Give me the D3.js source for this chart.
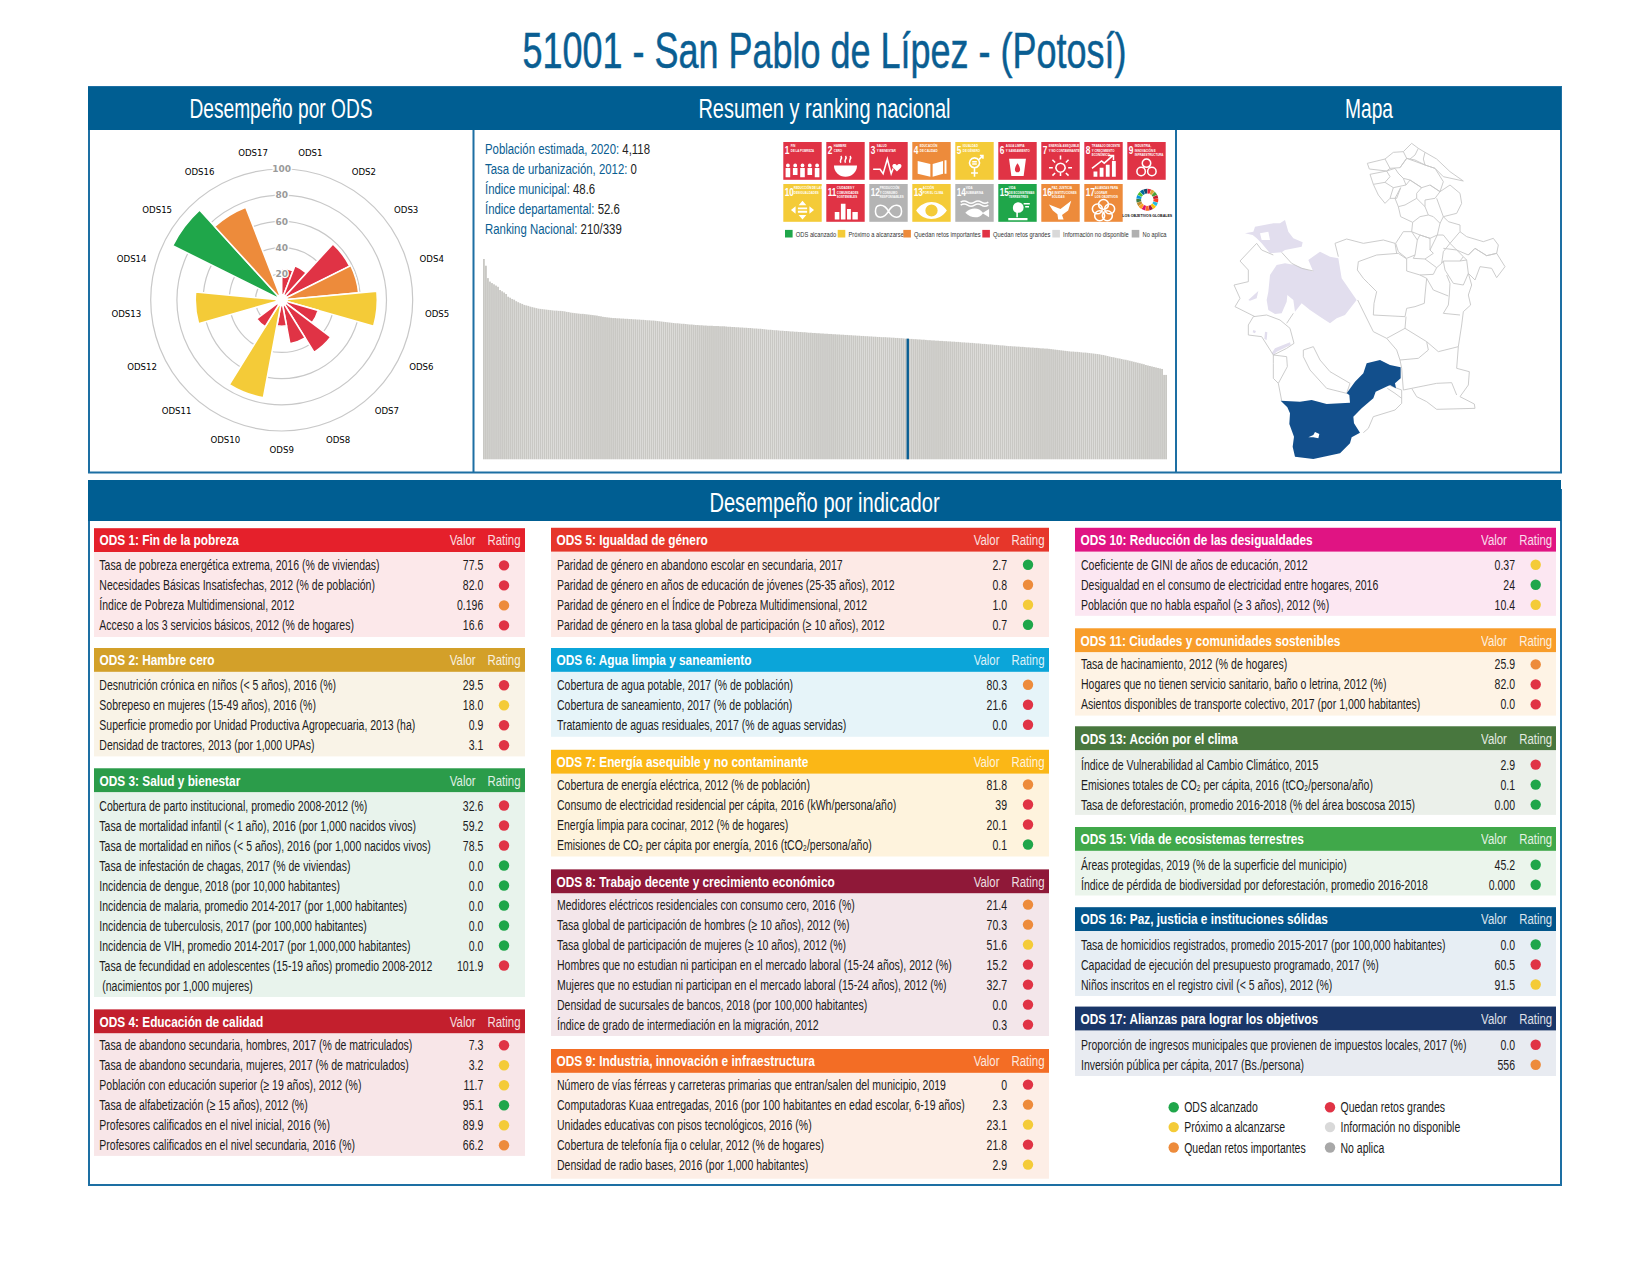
<!DOCTYPE html>
<html>
<head>
<meta charset="utf-8">
<script src="https://cdn.jsdelivr.net/npm/d3@7"></script>
<style>
body { margin: 0; background: #fff; }
text { font-family: "Liberation Sans", sans-serif; }
</style>
</head>
<body>
<svg id="chart" width="1651" height="1275"></svg>
<script>
// ratings: g alcanzado, y proximo, o retos importantes, r retos grandes
const ratingColors = { g: "#1fa64a", y: "#f4cb38", o: "#ed8b3b", r: "#e03345", n: "#d9d9d9", x: "#a8a8a8" };

const polarLabels = d3.range(1, 18).map(i => "ODS" + i);
const polarValues = [24, 28, 58, 59, 73, 29, 47, 34, 20, 76, 24, 0, 66, 0, 93, 76, 0];
const polarRatings = ["r", "r", "r", "o", "y", "r", "r", "r", "r", "y", "r", "x", "y", "x", "g", "o", "o"];
const polarTicks = [20, 40, 60, 80, 100];

const infoLines = [
  ["Población estimada, 2020: ", "4,118"],
  ["Tasa de urbanización, 2012: ", "0"],
  ["Índice municipal: ", "48.6"],
  ["Índice departamental: ", "52.6"],
  ["Ranking Nacional: ", "210/339"]
];

const tileTitles = [
  ["FIN", "DE LA POBREZA"], ["HAMBRE", "CERO"], ["SALUD", "Y BIENESTAR"], ["EDUCACIÓN", "DE CALIDAD"],
  ["IGUALDAD", "DE GÉNERO"], ["AGUA LIMPIA", "Y SANEAMIENTO"], ["ENERGÍA ASEQUIBLE", "Y NO CONTAMINANTE"],
  ["TRABAJO DECENTE", "Y CRECIMIENTO", "ECONÓMICO"], ["INDUSTRIA,", "INNOVACIÓN E", "INFRAESTRUCTURA"],
  ["REDUCCIÓN DE LAS", "DESIGUALDADES"], ["CIUDADES Y", "COMUNIDADES", "SOSTENIBLES"],
  ["PRODUCCIÓN", "Y CONSUMO", "RESPONSABLES"], ["ACCIÓN", "POR EL CLIMA"], ["VIDA", "SUBMARINA"],
  ["VIDA", "DE ECOSISTEMAS", "TERRESTRES"], ["PAZ, JUSTICIA", "E INSTITUCIONES", "SÓLIDAS"],
  ["ALIANZAS PARA", "LOGRAR", "LOS OBJETIVOS"]
];
const tileRatings = ["r", "r", "r", "o", "y", "r", "r", "r", "r", "y", "r", "x", "y", "x", "g", "o", "o"];
const tileLegend = [
  ["g", "ODS alcanzado"], ["y", "Próximo a alcanzarse"], ["o", "Quedan retos importantes"],
  ["r", "Quedan retos grandes"], ["n", "Información no disponible"], ["x", "No aplica"]
];
const wheelColors = ["#e5243b", "#dda63a", "#4c9f38", "#c5192d", "#ff3a21", "#26bde2", "#fcc30b", "#a21942", "#fd6925",
  "#dd1367", "#fd9d24", "#bf8b2e", "#3f7e44", "#0a97d9", "#56c02b", "#00689d", "#19486a"];

const rankingValues = [
  80.7,78.0,73.0,71.6,71.0,70.5,70.0,69.5,68.2,67.7,67.2,66.6,65.5,65.1,64.6,64.3,63.7,63.3,62.9,62.6,
  62.2,62.0,61.8,61.5,61.3,61.1,60.9,60.7,60.6,60.5,60.4,60.3,60.2,60.1,60.0,59.9,59.9,59.8,59.8,59.7,
  59.6,59.4,59.3,59.1,59.0,58.9,58.8,58.7,58.6,58.6,58.5,58.4,58.3,58.2,58.1,58.0,57.9,57.7,57.6,57.4,
  57.3,57.2,57.1,57.0,56.9,56.9,56.8,56.8,56.7,56.7,56.6,56.6,56.5,56.5,56.4,56.4,56.3,56.3,56.2,56.2,
  56.1,56.0,56.0,55.9,55.9,55.8,55.7,55.6,55.5,55.4,55.3,55.2,55.1,55.0,54.9,54.8,54.8,54.7,54.6,54.6,
  54.5,54.4,54.3,54.3,54.2,54.1,54.1,54.0,54.0,53.9,53.9,53.8,53.8,53.8,53.7,53.7,53.7,53.6,53.6,53.6,
  53.5,53.4,53.4,53.3,53.3,53.2,53.2,53.1,53.1,53.0,53.0,52.9,52.9,52.8,52.7,52.7,52.6,52.6,52.5,52.4,
  52.3,52.2,52.2,52.1,52.0,52.0,51.9,51.8,51.8,51.7,51.7,51.6,51.5,51.5,51.4,51.4,51.3,51.3,51.2,51.2,
  51.1,51.0,51.0,50.9,50.9,50.8,50.8,50.7,50.7,50.6,50.6,50.5,50.5,50.4,50.4,50.3,50.3,50.2,50.2,50.1,
  50.1,50.0,50.0,49.9,49.9,49.8,49.8,49.7,49.7,49.6,49.6,49.5,49.5,49.4,49.4,49.3,49.3,49.2,49.2,49.2,
  49.1,49.1,49.0,49.0,48.9,48.9,48.8,48.8,48.7,48.6,48.6,48.5,48.5,48.4,48.4,48.3,48.3,48.2,48.2,48.1,
  48.0,48.0,47.9,47.9,47.8,47.8,47.7,47.7,47.6,47.6,47.5,47.5,47.4,47.4,47.3,47.3,47.2,47.1,47.1,47.0,
  47.0,46.9,46.9,46.8,46.7,46.7,46.6,46.5,46.5,46.4,46.3,46.3,46.2,46.1,46.1,46.0,45.9,45.9,45.8,45.7,
  45.6,45.6,45.5,45.5,45.4,45.4,45.3,45.3,45.2,45.1,45.1,45.0,45.0,44.9,44.9,44.8,44.7,44.7,44.6,44.6,
  44.5,44.4,44.3,44.2,44.1,44.0,43.9,43.8,43.7,43.6,43.5,43.4,43.4,43.3,43.3,43.2,43.1,43.0,43.0,42.9,
  42.8,42.7,42.6,42.5,42.4,42.3,42.1,42.0,41.8,41.6,41.4,41.2,41.1,40.9,40.7,40.6,40.4,40.2,40.1,39.9,
  39.7,39.5,39.3,39.1,38.9,38.7,38.5,38.3,38.0,37.8,37.6,37.4,37.2,37.0,36.8,36.6,36.4,34.0,34.0
];
const rankingHighlight = 210;

// contornos del mapa, en unidades propias del mapa (0-900, 0-1005)
const mapBlue = [[152,797],[210,800],[245,795],[290,807],[360,803],[358,780],[350,775],[375,740],[400,715],[410,685],[450,675],[480,690],[512,697],[512,730],[495,745],[498,760],[480,750],[437,770],[430,790],[395,820],[370,845],[372,865],[390,893],[365,907],[360,925],[330,955],[250,972],[195,965],[188,935],[192,905],[178,867],[180,835],[172,817]];
const mapBlueHole = [[235,907],[250,900],[255,891],[268,897],[265,910],[250,907]];
const mapLavender = [
  [[45,295],[70,290],[75,275],[130,265],[150,265],[165,255],[175,290],[190,310],[218,322],[215,335],[165,345],[155,352],[120,355],[95,325],[80,310],[68,300]],
  [[120,420],[140,390],[165,385],[195,390],[220,400],[250,410],[235,375],[270,350],[300,365],[325,370],[335,430],[380,495],[345,540],[320,550],[300,565],[270,545],[240,525],[215,505],[195,530],[190,495],[172,480],[170,500],[155,535],[135,537],[115,525],[110,495],[115,470]],
  [[55,495],[85,468],[80,490],[60,497]],
  [[105,590],[112,592],[110,615],[103,612]],
  [[125,655],[135,640],[180,622],[182,630],[140,650],[130,660]],
  [[70,585],[78,588],[75,595],[68,592]]
];
const mapLakeHole = [[90,295],[115,290],[120,315],[95,315]];
const mapRegions = [
  [[412,85],[465,72],[480,100],[470,108],[418,102],[412,85]],
  [[465,72],[490,52],[520,50],[530,70],[510,98],[480,100]],
  [[520,50],[545,25],[565,40],[555,60],[540,72],[530,70]],
  [[565,40],[585,52],[580,72],[585,90],[555,75],[540,72]],
  [[585,52],[620,72],[660,110],[700,138],[640,125],[615,100],[585,90]],
  [[510,98],[530,70],[585,90],[615,100],[640,140],[630,170],[600,150],[575,158],[540,135],[520,130],[505,115]],
  [[420,118],[470,108],[480,125],[465,142],[430,148],[420,118]],
  [[470,108],[495,100],[505,115],[520,130],[528,150],[490,158],[465,142]],
  [[430,148],[445,180],[465,205],[480,190],[490,158]],
  [[512,158],[500,190],[480,190]],
  [[528,150],[540,135],[575,158],[560,175],[560,190],[525,210],[505,215],[495,190],[512,158]],
  [[600,150],[630,170],[615,190],[585,195],[585,215],[560,190]],
  [[630,170],[660,150],[690,175],[695,205],[680,235],[640,245],[620,190]],
  [[505,215],[512,245],[548,262],[570,245],[595,240],[585,215]],
  [[595,240],[610,245],[630,265],[640,245]],
  [[548,262],[545,290],[570,300],[600,310],[622,300],[630,265]],
  [[640,245],[655,260],[690,270],[690,290],[660,325],[640,300],[622,300]],
  [[520,290],[545,290],[562,315],[555,360],[530,370],[505,350],[497,325],[520,290]],
  [[562,315],[570,300],[600,310],[600,345],[610,355],[585,372],[550,370],[555,360]],
  [[600,345],[622,300]],
  [[660,325],[640,350],[635,385],[620,398],[585,372]],
  [[690,290],[710,305],[760,320],[790,310],[805,330],[800,355],[770,362],[735,340],[715,360],[680,345],[660,325]],
  [[640,340],[680,345],[700,365],[690,378],[640,378],[635,385]],
  [[715,360],[735,340],[770,362],[800,355],[825,395],[800,428],[785,400],[750,395],[735,435],[715,415],[710,375],[700,365]],
  [[530,372],[530,408],[570,420],[610,418],[620,398]],
  [[690,378],[710,375]],
  [[640,378],[645,405],[670,445],[700,450],[715,415]],
  [[715,415],[725,450],[715,480],[722,510],[700,530],[695,570],[685,635]],
  [[650,420],[660,445],[658,480],[655,510],[640,535],[690,540]],
  [[590,430],[610,465],[655,483]],
  [[315,325],[350,312],[400,325],[460,315],[495,325],[500,355]],
  [[315,325],[325,365]],
  [[385,380],[440,360],[505,355],[530,372]],
  [[385,380],[382,405],[400,430],[415,445],[440,470],[432,505],[430,540],[525,545],[530,520],[555,515],[583,505],[585,480],[590,430],[570,420]],
  [[383,495],[430,590],[470,610],[525,580],[528,545]],
  [[470,610],[500,645],[510,675],[565,670],[595,645],[590,620],[525,580]],
  [[590,620],[625,650],[685,635]],
  [[685,635],[680,700],[718,710],[715,750],[690,785],[733,807],[735,820],[620,823],[590,800],[560,785],[545,760],[520,765],[515,700],[510,675]],
  [[545,760],[620,745],[665,743],[680,780]],
  [[475,750],[515,765],[515,805],[495,825],[430,845],[415,880],[400,893]],
  [[472,760],[495,775],[515,790]],
  [[55,570],[70,545],[110,540],[150,555],[180,580],[192,625],[170,640],[130,660],[95,605],[55,600],[55,570]],
  [[130,660],[170,665],[172,695],[145,745],[130,730],[130,685],[130,660]],
  [[145,745],[155,797]],
  [[220,645],[250,635],[270,675],[300,710],[360,745],[350,775],[290,760],[240,705],[220,665],[220,645]],
  [[80,325],[30,378],[55,405],[55,440],[12,450],[30,490],[15,515],[75,545]],
  [[80,325],[95,345],[130,360]],
  [[155,352],[185,385],[215,400],[250,408]],
  [[170,565],[190,535]]
];

const goalNames = {
  1: "ODS 1: Fin de la pobreza", 2: "ODS 2: Hambre cero", 3: "ODS 3: Salud y bienestar", 4: "ODS 4: Educación de calidad",
  5: "ODS 5: Igualdad de género", 6: "ODS 6: Agua limpia y saneamiento", 7: "ODS 7: Energía asequible y no contaminante",
  8: "ODS 8: Trabajo decente y crecimiento económico", 9: "ODS 9: Industria, innovación e infraestructura",
  10: "ODS 10: Reducción de las desigualdades", 11: "ODS 11: Ciudades y comunidades sostenibles", 13: "ODS 13: Acción por el clima",
  15: "ODS 15: Vida de ecosistemas terrestres", 16: "ODS 16: Paz, justicia e instituciones sólidas", 17: "ODS 17: Alianzas para lograr los objetivos"
};
const goalColors = { 1: "#e5202b", 2: "#d3a029", 3: "#2b9c4a", 4: "#c31f2d", 5: "#e6362a", 6: "#0ba5d9", 7: "#fbb716", 8: "#8f1838", 9: "#f36d25", 10: "#e01483", 11: "#f89d2a", 13: "#48773e", 15: "#40a84a", 16: "#02558b", 17: "#1a3668" };
const goalTints = { 1: "#fce8ea", 2: "#f9f3e7", 3: "#e8f3ec", 4: "#f8e6e8", 5: "#fdeae6", 6: "#e6f4f9", 7: "#fef3dd", 8: "#f3e6ea", 9: "#fdeee6", 10: "#fce7f2", 11: "#fef3e5", 13: "#ebf0ea", 15: "#ebf5ec", 16: "#e7eef4", 17: "#e8ebf1" };

const goalRows = {
  1: [["Tasa de pobreza energética extrema, 2016 (% de viviendas)", "77.5", "r"], ["Necesidades Básicas Insatisfechas, 2012 (% de población)", "82.0", "r"], ["Índice de Pobreza Multidimensional, 2012", "0.196", "o"], ["Acceso a los 3 servicios básicos, 2012 (% de hogares)", "16.6", "r"]],
  2: [["Desnutrición crónica en niños (< 5 años), 2016 (%)", "29.5", "r"], ["Sobrepeso en mujeres (15-49 años), 2016 (%)", "18.0", "y"], ["Superficie promedio por Unidad Productiva Agropecuaria, 2013 (ha)", "0.9", "r"], ["Densidad de tractores, 2013 (por 1,000 UPAs)", "3.1", "r"]],
  3: [["Cobertura de parto institucional, promedio 2008-2012 (%)", "32.6", "r"], ["Tasa de mortalidad infantil (< 1 año), 2016 (por 1,000 nacidos vivos)", "59.2", "r"], ["Tasa de mortalidad en niños (< 5 años), 2016 (por 1,000 nacidos vivos)", "78.5", "r"], ["Tasa de infestación de chagas, 2017 (% de viviendas)", "0.0", "g"], ["Incidencia de dengue, 2018 (por 10,000 habitantes)", "0.0", "g"], ["Incidencia de malaria, promedio 2014-2017 (por 1,000 habitantes)", "0.0", "g"], ["Incidencia de tuberculosis, 2017 (por 100,000 habitantes)", "0.0", "g"], ["Incidencia de VIH, promedio 2014-2017 (por 1,000,000 habitantes)", "0.0", "g"], ["Tasa de fecundidad en adolescentes (15-19 años) promedio 2008-2012", "101.9", "r"], ["\u00a0(nacimientos por 1,000 mujeres)", "", ""]],
  4: [["Tasa de abandono secundaria, hombres, 2017 (% de matriculados)", "7.3", "r"], ["Tasa de abandono secundaria, mujeres, 2017 (% de matriculados)", "3.2", "y"], ["Población con educación superior (≥ 19 años), 2012 (%)", "11.7", "y"], ["Tasa de alfabetización (≥ 15 años), 2012 (%)", "95.1", "g"], ["Profesores calificados en el nivel inicial, 2016 (%)", "89.9", "y"], ["Profesores calificados en el nivel secundaria, 2016 (%)", "66.2", "o"]],
  5: [["Paridad de género en abandono escolar en secundaria, 2017", "2.7", "g"], ["Paridad de género en años de educación de jóvenes (25-35 años), 2012", "0.8", "o"], ["Paridad de género en el Índice de Pobreza Multidimensional, 2012", "1.0", "y"], ["Paridad de género en la tasa global de participación (≥ 10 años), 2012", "0.7", "g"]],
  6: [["Cobertura de agua potable, 2017 (% de población)", "80.3", "o"], ["Cobertura de saneamiento, 2017 (% de población)", "21.6", "r"], ["Tratamiento de aguas residuales, 2017 (% de aguas servidas)", "0.0", "r"]],
  7: [["Cobertura de energía eléctrica, 2012 (% de población)", "81.8", "o"], ["Consumo de electricidad residencial per cápita, 2016 (kWh/persona/año)", "39", "r"], ["Energía limpia para cocinar, 2012 (% de hogares)", "20.1", "r"], ["Emisiones de CO₂ per cápita por energía, 2016 (tCO₂/persona/año)", "0.1", "g"]],
  8: [["Medidores eléctricos residenciales con consumo cero, 2016 (%)", "21.4", "o"], ["Tasa global de participación de hombres (≥ 10 años), 2012 (%)", "70.3", "o"], ["Tasa global de participación de mujeres (≥ 10 años), 2012 (%)", "51.6", "y"], ["Hombres que no estudian ni participan en el mercado laboral (15-24 años), 2012 (%)", "15.2", "r"], ["Mujeres que no estudian ni participan en el mercado laboral (15-24 años), 2012 (%)", "32.7", "r"], ["Densidad de sucursales de bancos, 2018 (por 100,000 habitantes)", "0.0", "r"], ["Índice de grado de intermediación en la migración, 2012", "0.3", "r"]],
  9: [["Número de vías férreas y carreteras primarias que entran/salen del municipio, 2019", "0", "r"], ["Computadoras Kuaa entregadas, 2016 (por 100 habitantes en edad escolar, 6-19 años)", "2.3", "o"], ["Unidades educativas con pisos tecnológicos, 2016 (%)", "23.1", "y"], ["Cobertura de telefonía fija o celular, 2012 (% de hogares)", "21.8", "r"], ["Densidad de radio bases, 2016 (por 1,000 habitantes)", "2.9", "y"]],
  10: [["Coeficiente de GINI de años de educación, 2012", "0.37", "y"], ["Desigualdad en el consumo de electricidad entre hogares, 2016", "24", "g"], ["Población que no habla español (≥ 3 años), 2012 (%)", "10.4", "y"]],
  11: [["Tasa de hacinamiento, 2012 (% de hogares)", "25.9", "o"], ["Hogares que no tienen servicio sanitario, baño o letrina, 2012 (%)", "82.0", "r"], ["Asientos disponibles de transporte colectivo, 2017 (por 1,000 habitantes)", "0.0", "r"]],
  13: [["Índice de Vulnerabilidad al Cambio Climático, 2015", "2.9", "r"], ["Emisiones totales de CO₂ per cápita, 2016 (tCO₂/persona/año)", "0.1", "g"], ["Tasa de deforestación, promedio 2016-2018 (% del área boscosa 2015)", "0.00", "g"]],
  15: [["Áreas protegidas, 2019 (% de la superficie del municipio)", "45.2", "g"], ["Índice de pérdida de biodiversidad por deforestación, promedio 2016-2018", "0.000", "g"]],
  16: [["Tasa de homicidios registrados, promedio 2015-2017 (por 100,000 habitantes)", "0.0", "g"], ["Capacidad de ejecución del presupuesto programado, 2017 (%)", "60.5", "r"], ["Niños inscritos en el registro civil (< 5 años), 2012 (%)", "91.5", "y"]],
  17: [["Proporción de ingresos municipales que provienen de impuestos locales, 2017 (%)", "0.0", "r"], ["Inversión pública per cápita, 2017 (Bs./persona)", "556", "o"]]
};
const ratingLegend = [
  ["g", "ODS alcanzado"], ["y", "Próximo a alcanzarse"], ["o", "Quedan retos importantes"],
  ["r", "Quedan retos grandes"], ["n", "Información no disponible"], ["x", "No aplica"]
];

// layout
const blue = "#005e92", frameBlue = "#1d6fa3";
const columns = [
  { x0: 94, x1: 525, text: 99.3, val: 483.3, dot: 504, valor: 462.7 },
  { x0: 551, x1: 1049, text: 557, val: 1007, dot: 1028, valor: 986.6 },
  { x0: 1075, x1: 1556, text: 1081, val: 1515, dot: 1535.7, valor: 1494 }
];
// goal, column, header top, first row centre, body bottom
const sections = [
  [1, 0, 528.2, 565.4, 637], [2, 0, 648, 685.2, 756.4], [3, 0, 768.3, 805.5, 997], [4, 0, 1009.4, 1045.2, 1155.9],
  [5, 1, 527.8, 564.7, 637], [6, 1, 648, 684.8, 736.8], [7, 1, 749.8, 784.5, 856.5], [8, 1, 869.4, 904.6, 1036], [9, 1, 1049, 1084.6, 1178.7],
  [10, 2, 527.8, 564.7, 615.8], [11, 2, 628.3, 664.4, 715.6], [13, 2, 726.3, 764.6, 814.9], [15, 2, 827, 864.7, 895.5], [16, 2, 907.2, 944.5, 996], [17, 2, 1006.6, 1044.7, 1076]
];

const svg = d3.select("#chart");

function label(parent, x, y, str, o = {}) {
  const sx = o.sx || 1;
  return parent.append("text")
    .attr("transform", `translate(${x},${y}) scale(${sx},1)`)
    .attr("dy", "0.35em")
    .attr("text-anchor", o.anchor || "start")
    .attr("font-size", o.size || 14)
    .attr("font-weight", o.weight || "normal")
    .attr("fill", o.fill || "#222")
    .style("font-family", o.family || null)
    .text(str);
}

// title and frames
label(svg, 824.5, 50, "51001 - San Pablo de Lípez - (Potosí)", { anchor: "middle", size: 50, fill: "#0a5e92", sx: 0.72 })
  .attr("stroke", "#0a5e92").attr("stroke-width", 0.5);
svg.append("rect").attr("x", 89).attr("y", 87).attr("width", 1472).attr("height", 385.5).attr("fill", "none").attr("stroke", frameBlue).attr("stroke-width", 2);
svg.append("rect").attr("x", 88).attr("y", 87).attr("width", 1473).attr("height", 43).attr("fill", blue);
[473.5, 1176].forEach(x => svg.append("line").attr("x1", x).attr("x2", x).attr("y1", 130).attr("y2", 472).attr("stroke", frameBlue).attr("stroke-width", 2));
svg.append("rect").attr("x", 89).attr("y", 490).attr("width", 1472).attr("height", 695).attr("fill", "none").attr("stroke", frameBlue).attr("stroke-width", 2);
svg.append("rect").attr("x", 88).attr("y", 480).attr("width", 1473).attr("height", 41).attr("fill", blue);
label(svg, 281, 108.5, "Desempeño por ODS", { anchor: "middle", size: 27, fill: "#fff", sx: 0.71 });
label(svg, 824.5, 108.5, "Resumen y ranking nacional", { anchor: "middle", size: 27, fill: "#fff", sx: 0.74 });
label(svg, 1369, 108.5, "Mapa", { anchor: "middle", size: 27, fill: "#fff", sx: 0.71 });
label(svg, 824.5, 503, "Desempeño por indicador", { anchor: "middle", size: 27, fill: "#fff", sx: 0.745 });

// polar bars
const polar = svg.append("g").attr("transform", "translate(281.7,300)");
const rScale = d3.scaleLinear().domain([0, 100]).range([0, 131]);
const step = 2 * Math.PI / 17;
polarTicks.forEach(t => polar.append("circle").attr("r", rScale(t)).attr("fill", "none").attr("stroke", "#c8c8c8").attr("stroke-width", 1.2));
const arc = d3.arc().innerRadius(0).outerRadius(d => rScale(d.v))
  .startAngle(d => d.i * step).endAngle(d => (d.i + 1) * step);
polar.selectAll("path.bar").data(polarValues.map((v, i) => ({ v, i })).filter(d => d.v > 0)).join("path")
  .attr("class", "bar").attr("d", arc)
  .attr("fill", d => ratingColors[polarRatings[d.i]])
  .attr("stroke", "#fff").attr("stroke-width", 1.6);
polar.append("circle").attr("r", 6.2).attr("fill", "#fff");
polarTicks.forEach(t => {
  label(polar, 0, -rScale(t), t, { anchor: "middle", size: 9, weight: "bold", fill: "#fff", family: "DejaVu Sans" })
    .attr("stroke", "#fff").attr("stroke-width", 2.5);
  label(polar, 0, -rScale(t), t, { anchor: "middle", size: 9, weight: "bold", fill: "#9a9a9a", family: "DejaVu Sans" });
});
polarLabels.forEach((s, i) => {
  const a = (i + 0.5) * step;
  label(polar, 156 * Math.sin(a), -150 * Math.cos(a), s, { anchor: "middle", size: 8.6, fill: "#000", family: "DejaVu Sans" });
});

// summary
const infoY = d3.scalePoint().domain(d3.range(infoLines.length)).range([148.7, 228.7]);
infoLines.forEach((l, i) => {
  const t = label(svg, 485, infoY(i), "", { size: 15.5, fill: "#0a5e92", sx: 0.735 });
  t.append("tspan").text(l[0]);
  t.append("tspan").attr("fill", "#222").text(l[1]);
});

// tiles
const tileX = i => 783.3 + (i % 9) * 43, tileY = i => i < 9 ? 142 : 184;
const circ = (x, y, r) => `M${x - r} ${y}a${r} ${r} 0 1 0 ${2 * r} 0a${r} ${r} 0 1 0 ${-2 * r} 0Z`;
// icon drawing in a 100x100 tile: [filled path, stroked path]
const icons = [
  [[12, 31, 50, 69, 88].map((x, k) => circ(x, 62, 5) + `M${x - 6} 69h12v${k % 2 ? 18 : 24}h-12Z`).join(""), ""],
  ["M20 62H80A30 30 0 0 1 20 62Z", "M38 55c-6-8 6-10 0-18M50 55c-6-8 6-10 0-18M62 55c-6-8 6-10 0-18"],
  ["M72 62c6-8 16-2 10 6l-10 10l-10-10c-6-8 4-14 10-6Z", "M10 72H28L36 84L47 45L57 84L62 70"],
  ["M14 50L47 58V92L14 84ZM53 58L80 50V84L53 92ZM84 48h5v36h-5Z", ""],
  ["", "M50 42a13 13 0 1 0 .1 0M62 46L72 36M64 36H72V44M50 68V92M41 82H59M44 52H56M44 58H56"],
  ["M28 44H72L66 90H34ZM50 56C40 70 42 80 50 80C58 80 60 70 50 56Z", ""],
  ["", "M50 56a12 12 0 1 0 .1 0M50 46V36M50 90V80M30 68H20M80 68H70M36 54L29 47M71 89L64 82M64 54L71 47M29 89L36 82"],
  ["M24 78h10v14h-10ZM40 68h10v24h-10ZM56 60h10v32h-10ZM72 50h10v42h-10Z", "M20 70L45 50L52 56L74 36M62 36H76V48"],
  ["", circ(50, 56, 11) + circ(36, 78, 11) + circ(64, 78, 11)],
  ["M50 44L60 56H40ZM50 94L40 82H60ZM20 69L32 59V79ZM80 69L68 59V79ZM38 62H62V67H38ZM38 71H62V76H38Z", ""],
  ["M22 74h12v20h-12ZM38 52h12v42h-12ZM54 66h10v28h-10ZM68 74h14v20h-14Z", ""],
  ["", "M50 72C38 50 16 52 16 72C16 92 38 94 50 72C62 50 84 52 84 72C84 92 62 94 50 72Z"],
  ["M10 70C30 40 70 40 90 70C70 100 30 100 10 70Z" + circ(50, 70, 16), ""],
  ["M26 76C42 60 62 62 72 76L88 66V88L72 78C62 92 42 92 26 76Z", "M14 48q9-6 18 0t18 0t18 0t18 0M14 56q9-6 18 0t18 0t18 0t18 0"],
  ["M26 90h50v6h-50ZM38 62a14 14 0 1 1 28 0a14 14 0 0 1-14 14h-1v12h-4v-12a14 14 0 0 1-9-14Z", "M66 52h16M70 60h10"],
  ["M20 54L50 66L78 44L70 70L54 82L58 94H44L42 80L30 70Z", ""],
  ["", [[50, 54], [66, 66], [60, 84], [40, 84], [34, 66]].map(p => circ(p[0], p[1], 13)).join("")]
];
tileTitles.forEach((lines, i) => {
  const g = svg.append("g").attr("transform", `translate(${tileX(i)},${tileY(i)})`);
  g.append("rect").attr("width", 38.4).attr("height", 37.8).attr("fill", tileRatings[i] === "x" ? "#b4b4b4" : ratingColors[tileRatings[i]]);
  const numW = i >= 9 ? 10.5 : 7.5;
  label(g, 1.4, 7.5, i + 1, { size: 11.5, weight: "bold", fill: "#fff", sx: 0.72 });
  lines.forEach((s, k) => label(g, numW, 4 + k * 4.5, s, { size: 3.8, weight: "bold", fill: "#fff", sx: 0.76 }));
  const ic = g.append("g").attr("transform", "scale(0.384,0.378)");
  ic.append("path").attr("d", icons[i][0]).attr("fill", "#fff").attr("fill-rule", "evenodd");
  ic.append("path").attr("d", icons[i][1]).attr("fill", "none").attr("stroke", "#fff").attr("stroke-width", 4);
});
// SDG wheel
const wheel = svg.append("g").attr("transform", "translate(1147.3,199.7)");
wheel.selectAll("path").data(d3.pie().value(1).sort(null).padAngle(0.02)(wheelColors)).join("path")
  .attr("d", d3.arc().innerRadius(6.2).outerRadius(11)).attr("fill", d => d.data);
label(svg, 1147.3, 216, "LOS OBJETIVOS GLOBALES", { anchor: "middle", size: 3.6, weight: "bold", fill: "#111" });
// tile legend
const tileLegendX = [785, 837.7, 903.3, 982.3, 1052.3, 1131.7];
tileLegend.forEach((d, i) => {
  svg.append("rect").attr("x", tileLegendX[i]).attr("y", 229.9).attr("width", 7.6).attr("height", 7.6)
    .attr("fill", d[0] === "n" ? "#d9d9d9" : d[0] === "x" ? "#b0b0b0" : ratingColors[d[0]]);
  label(svg, tileLegendX[i] + 10.8, 233.7, d[1], { size: 8, fill: "#333", sx: 0.72 });
});

// ranking bars
const rankX = d3.scaleBand().domain(d3.range(rankingValues.length)).range([483, 1167]).paddingInner(0.1);
const rankY = d3.scaleLinear().domain([0, 80.7]).range([459.3, 259]);
svg.append("g").selectAll("rect").data(rankingValues).join("rect")
  .attr("x", (d, i) => rankX(i)).attr("width", rankX.bandwidth())
  .attr("y", d => rankY(d)).attr("height", d => rankY(0) - rankY(d))
  .attr("fill", "#c9c8c4");
svg.append("rect").attr("x", rankX(rankingHighlight) - 0.3).attr("width", rankX.bandwidth() + 0.6)
  .attr("y", rankY(rankingValues[rankingHighlight])).attr("height", rankY(0) - rankY(rankingValues[rankingHighlight]))
  .attr("fill", "#0a5e92");

// map
const mapX = d3.scaleLinear().domain([0, 900]).range([1230, 1530]);
const mapY = d3.scaleLinear().domain([0, 1005]).range([135, 470]);
const mapLine = d3.line().x(d => mapX(d[0])).y(d => mapY(d[1]));
const closed = p => mapLine(p) + "Z";
const map = svg.append("g");
map.append("path").attr("d", mapLavender.map(closed).join("") + closed(mapLakeHole)).attr("fill", "#e2deee").attr("fill-rule", "evenodd");
map.selectAll("path.region").data(mapRegions).join("path").attr("class", "region").attr("d", mapLine)
  .attr("fill", "none").attr("stroke", "#c6c6c6").attr("stroke-width", 0.9);
map.append("path").attr("d", closed(mapBlue) + closed(mapBlueHole)).attr("fill", "#124f8c").attr("fill-rule", "evenodd");

// indicator tables
sections.forEach(([goal, col, top, first, bottom]) => {
  const c = columns[col], g = svg.append("g");
  g.append("rect").attr("x", c.x0).attr("y", top).attr("width", c.x1 - c.x0).attr("height", bottom - top).attr("fill", goalTints[goal]);
  g.append("rect").attr("x", c.x0).attr("y", top).attr("width", c.x1 - c.x0).attr("height", 23.8).attr("fill", goalColors[goal]);
  label(g, c.x0 + 5.5, top + 12, goalNames[goal], { size: 15, weight: "bold", fill: "#fff", sx: 0.79 });
  label(g, c.valor, top + 12, "Valor", { anchor: "middle", size: 15, fill: "#fff", sx: 0.76 }).attr("opacity", 0.85);
  label(g, c.dot, top + 12, "Rating", { anchor: "middle", size: 15, fill: "#fff", sx: 0.76 }).attr("opacity", 0.85);
  goalRows[goal].forEach((r, i) => {
    const y = first + i * 20;
    label(g, c.text, y, r[0], { size: 14.5, fill: "#1c1c1c", sx: 0.725 });
    if (r[1]) label(g, c.val, y, r[1], { anchor: "end", size: 14.5, fill: "#1c1c1c", sx: 0.725 });
    if (r[2]) g.append("circle").attr("cx", c.dot).attr("cy", y).attr("r", 5.2).attr("fill", ratingColors[r[2]]);
  });
});

// rating legend
const legendX = [1173.7, 1173.7, 1173.7, 1330, 1330, 1330];
const legendY = [1107.2, 1127.1, 1147.5, 1107.2, 1127.1, 1147.5];
ratingLegend.forEach((d, i) => {
  svg.append("circle").attr("cx", legendX[i]).attr("cy", legendY[i]).attr("r", 5.2).attr("fill", ratingColors[d[0]]);
  label(svg, legendX[i] + 10.5, legendY[i], d[1], { size: 14.5, fill: "#1c1c1c", sx: 0.725 });
});
</script>
</body>
</html>
